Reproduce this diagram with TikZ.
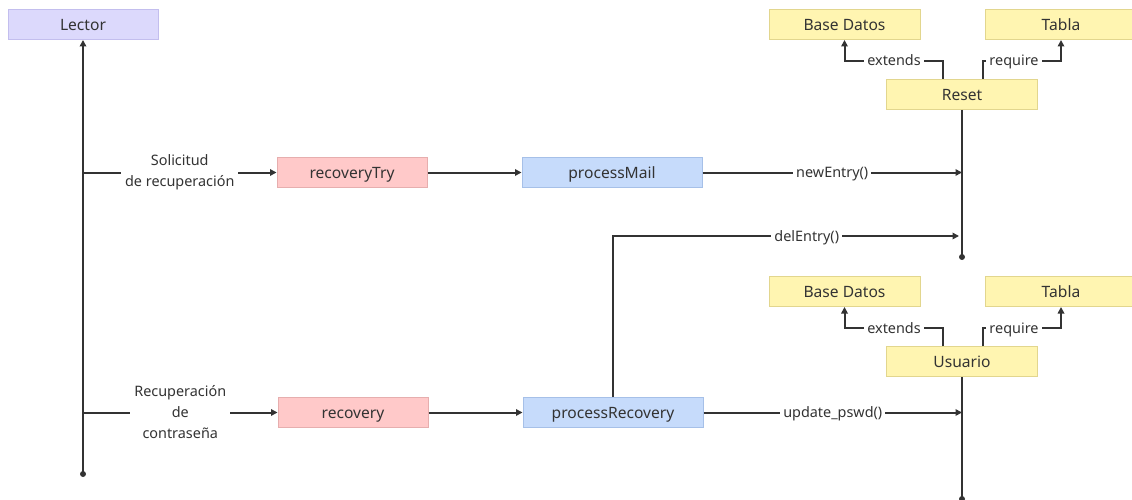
\documentclass[tikz,border=0pt]{standalone}
\usepackage{fontspec}
\setmainfont{Noto Sans}
\usetikzlibrary{arrows.meta,positioning}

\definecolor{ink}{HTML}{333333}
\definecolor{actorFill}{HTML}{DCD9FC}
\definecolor{actorLine}{HTML}{C3BEEE}
\definecolor{tryFill}{HTML}{FFC9C9}
\definecolor{tryLine}{HTML}{E6AEAE}
\definecolor{procFill}{HTML}{C6DBFB}
\definecolor{procLine}{HTML}{A6C0E8}
\definecolor{dataFill}{HTML}{FFF5B1}
\definecolor{dataLine}{HTML}{E2D68E}

\tikzset{
  box/.style={draw, line width=1pt, minimum height=30pt, inner sep=0pt,
    text height=14pt, text depth=1.5pt,
    font=\fontsize{15.6}{18}\selectfont, text=ink},
  actorbox/.style={box, fill=actorFill, draw=actorLine, minimum width=150pt},
  trybox/.style={box, fill=tryFill, draw=tryLine, minimum width=150pt},
  procbox/.style={box, fill=procFill, draw=procLine, minimum width=180pt},
  databox/.style={box, fill=dataFill, draw=dataLine, minimum width=151pt},
  wire/.style={draw=ink, line width=2pt},
  flow/.style={wire, -{Triangle[length=6.5pt,width=6.5pt]}},
  tag/.style={fill=white, text=ink, inner sep=4pt, align=center,
    font=\fontsize{14.4}{21}\selectfont},
  calltag/.style={tag, inner sep=3pt, text height=12pt, text depth=2pt},
  dot/.style={circle, fill=ink, inner sep=0pt, minimum size=6pt},
}

\begin{document}
\begin{tikzpicture}[x=1pt, y=-1pt]
  \useasboundingbox (0,0) rectangle (1132,500);

  % participants
  \node[actorbox] (lector) at (83,24.5) {Lector};
  \node[trybox]   (recoveryTry) at (352,172.5) {recoveryTry};
  \node[trybox]   (recovery) at (353,412.5) {recovery};
  \node[procbox]  (processMail) at (612,172.5) {processMail};
  \node[procbox]  (processRecovery) at (613,412.5) {processRecovery};

  \node[databox]  (reset) at (962,94.5) {Reset};
  \node[databox]  (baseA) at (844.5,24.5) {Base Datos};
  \node[databox]  (tablaA) at (1061,24.5) {Tabla};

  \node[databox]  (usuario) at (962,361.5) {Usuario};
  \node[databox]  (baseB) at (844.5,291.5) {Base Datos};
  \node[databox]  (tablaB) at (1061,291.5) {Tabla};

  % lifeline ends and junctions
  \coordinate (lectorEnd) at (83,474);
  \coordinate (lectorA) at (83,172.5);
  \coordinate (lectorB) at (83,412.5);
  \coordinate (resetEnd) at (962,257);
  \coordinate (resetIn1) at (962,172.5);
  \coordinate (resetIn2) at (959,236);
  \coordinate (usuarioEnd) at (962,499);
  \coordinate (usuarioIn) at (962,412.5);

  % lifelines
  \draw[flow] (lectorEnd) -- (lector.south);
  \node[dot] at (lectorEnd) {};
  \draw[wire] (reset.south) -- (resetEnd);
  \node[dot] at (resetEnd) {};
  \draw[wire] (usuario.south) -- (usuarioEnd);
  \node[dot] at (usuarioEnd) {};

  % requests from Lector
  \draw[flow] (lectorA) -- node[tag] {Solicitud\\de recuperación} (recoveryTry.west);
  \draw[flow] (lectorB) -- node[tag] {Recuperación\\de\\contraseña} (recovery.west);

  % processing chain
  \draw[flow] (recoveryTry.east) -- (processMail.west);
  \draw[flow] (recovery.east) -- (processRecovery.west);
  \draw[flow] (processMail.east) -- node[calltag] {newEntry()} (resetIn1);
  \draw[flow] (processRecovery.north) |- node[calltag, pos=0.78] {delEntry()} (resetIn2);
  \draw[flow] (processRecovery.east) -- node[calltag] {update\_pswd()} (usuarioIn);

  % Reset dependencies
  \draw[flow] ([xshift=-19pt]reset.north) |- (894,61)
    node[calltag] {extends} -- (844.5,61) -- (baseA.south);
  \draw[flow] ([xshift=21pt]reset.north) |- (1014,61)
    node[calltag] {require} -- (1061,61) -- (tablaA.south);

  % Usuario dependencies
  \draw[flow] ([xshift=-19pt]usuario.north) |- (894,328)
    node[calltag] {extends} -- (844.5,328) -- (baseB.south);
  \draw[flow] ([xshift=21pt]usuario.north) |- (1014,328)
    node[calltag] {require} -- (1061,328) -- (tablaB.south);
\end{tikzpicture}
\end{document}
